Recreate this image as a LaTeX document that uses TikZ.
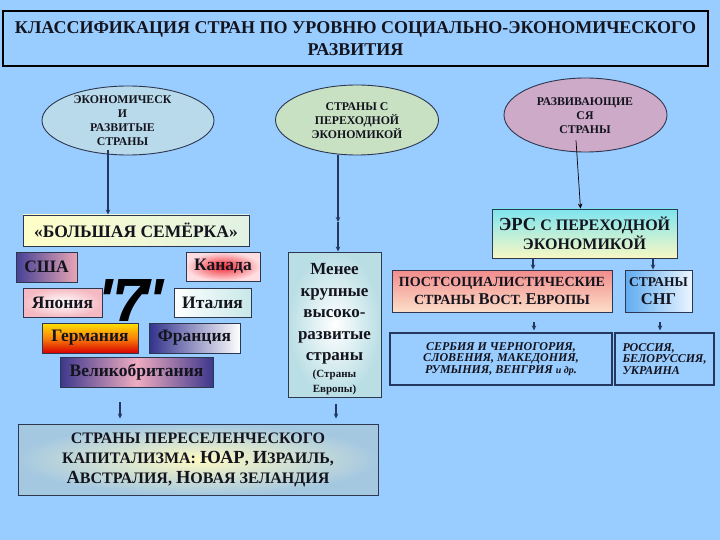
\documentclass[tikz,border=0pt]{standalone}
\usepackage{fontspec}
\setmainfont{Liberation Serif}
\newfontfamily\sevenfont{Liberation Sans}
\usetikzlibrary{shapes.geometric,arrows.meta}
\definecolor{bg}{RGB}{153,204,255}
\definecolor{bord}{RGB}{45,55,80}
\definecolor{txt}{RGB}{20,20,30}
\definecolor{arrc}{RGB}{35,55,95}
\definecolor{ellA}{RGB}{185,218,235}
\definecolor{ellB}{RGB}{200,225,195}
\definecolor{ellC}{RGB}{205,170,200}
\definecolor{creamL}{RGB}{255,255,200}
\definecolor{creamR}{RGB}{225,242,228}
\definecolor{navyg}{RGB}{70,65,150}
\definecolor{pinkg}{RGB}{232,165,180}
\definecolor{pinkm}{RGB}{240,172,192}
\definecolor{redg}{RGB}{240,40,50}
\definecolor{pinkl}{RGB}{255,222,225}
\definecolor{japo}{RGB}{245,185,195}
\definecolor{tealg}{RGB}{200,232,232}
\definecolor{yelg}{RGB}{255,225,0}
\definecolor{orag}{RGB}{250,130,10}
\definecolor{redb}{RGB}{215,0,0}
\definecolor{frn}{RGB}{50,50,140}
\definecolor{gbn}{RGB}{60,55,140}
\definecolor{menO}{RGB}{185,222,228}
\definecolor{botI}{RGB}{255,250,195}
\definecolor{botO}{RGB}{165,200,225}
\definecolor{ersT}{RGB}{125,228,240}
\definecolor{ersB}{RGB}{248,248,195}
\definecolor{postT}{RGB}{242,140,140}
\definecolor{postB}{RGB}{252,222,200}
\definecolor{sngL}{RGB}{95,172,240}
\definecolor{sngR}{RGB}{235,245,255}
\newcommand\fs[2]{\fontsize{#1}{#2}\selectfont}
\begin{document}
\begin{tikzpicture}[x=1pt,y=-1pt,
  box/.style={draw=bord, line width=0.9pt, inner sep=0pt, align=center, text=txt, font=\bfseries},
  ell/.style={ellipse, draw=bord, line width=0.9pt, inner sep=0pt},
  elltext/.style={inner sep=0pt, align=center, text=txt, font=\fs{11.8}{14}\bfseries},
  arr/.style={draw=arrc, line width=1.1pt, -{Stealth[length=5pt,width=4.5pt]}},
  cty/.style={box, font=\fs{17.5}{20}\bfseries}
]
\fill[bg] (0,0) rectangle (720,540);
\useasboundingbox (0,0) rectangle (720,540);

\node[box, draw=black, line width=2pt, fill=bg, minimum width=705, minimum height=55, font=\fs{18}{21.5}\bfseries] (title) at (355.5,38.5)
  {КЛАССИФИКАЦИЯ СТРАН ПО УРОВНЮ СОЦИАЛЬНО-ЭКОНОМИЧЕСКОГО\\РАЗВИТИЯ};

\node[ell, fill=ellA, minimum width=172, minimum height=69] (e1) at (128,120.5) {};
\node[elltext] (e1t) at (122.5,121) {ЭКОНОМИЧЕСК\\И\\РАЗВИТЫЕ\\СТРАНЫ};
\node[ell, fill=ellB, minimum width=163, minimum height=70] (e2) at (357,120) {};
\node[elltext] (e2t) at (357,120.5) {СТРАНЫ С\\ПЕРЕХОДНОЙ\\ЭКОНОМИКОЙ};
\node[ell, fill=ellC, minimum width=163, minimum height=74] (e3) at (585.5,115) {};
\node[elltext] (e3t) at (585,115.5) {РАЗВИВАЮЩИЕ\\СЯ\\СТРАНЫ};

\node[box, minimum width=226, minimum height=31, left color=creamL, right color=creamR, font=\fs{17.5}{20}\bfseries] (b7) at (136,230.5) {«БОЛЬШАЯ СЕМЁРКА»};

\node[anchor=base, inner sep=0pt, text=black, font=\sevenfont\bfseries\itshape\fs{61}{61}] (seven) at (131,321.5) {"\kern-.2em7\kern-.2em"};

\node[cty, minimum width=61, minimum height=30, left color=navyg, right color=pinkg] (usa) at (46.5,267) {США};
\node[cty, minimum width=74, minimum height=29, inner color=redg, outer color=pinkl] (can) at (223,266.5) {Канада};
\node[cty, minimum width=79, minimum height=29, inner color=white, outer color=japo] (jap) at (62.5,302.5) {Япония};
\node[cty, minimum width=77, minimum height=29, left color=white, right color=tealg] (ita) at (212.5,302.5) {Италия};
\node[cty, minimum width=96, minimum height=30, top color=yelg, bottom color=redb, middle color=orag] (ger) at (90,338) {Германия};
\node[cty, minimum width=91, minimum height=30, left color=frn, right color=white] (fra) at (194.5,338) {Франция};
\node[cty, minimum width=153, minimum height=30, left color=gbn, right color=gbn, middle color=pinkm] (gb) at (136.5,372) {Великобритания};

\node[box, minimum width=93, minimum height=145, inner color=white, outer color=menO] (menee) at (334.5,324.5) {};
\node[inner sep=0pt, align=center, text=txt, font=\fs{17}{21.5}\bfseries] (meneet) at (334.5,329.5)
  {Менее\\крупные\\высоко-\\развитые\\страны\\[-4.5pt]{\fs{11}{13}\bfseries(Страны}\\[-6.5pt]{\fs{11}{13}\bfseries Европы)}};

\node[box, minimum width=360, minimum height=71, inner color=botI, outer color=botO, font=\fs{16}{20}\bfseries] (bot) at (198,459.5)
  {СТРАНЫ ПЕРЕСЕЛЕНЧЕСКОГО\\КАПИТАЛИЗМА: {\fs{18.5}{20}ЮАР}, {\fs{18.5}{20}И}ЗРАИЛЬ,\\{\fs{18.5}{20}А}ВСТРАЛИЯ, {\fs{18.5}{20}Н}ОВАЯ ЗЕЛАНДИЯ};

\node[box, minimum width=185, minimum height=49, top color=ersT, bottom color=ersB, font=\fs{16}{19}\bfseries] (ers) at (584.5,233.5)
  {{\fs{18.5}{19}ЭРС} С ПЕРЕХОДНОЙ\\ЭКОНОМИКОЙ};
\node[box, minimum width=220, minimum height=42, top color=postT, bottom color=postB, font=\fs{14}{18}\bfseries] (post) at (502,291)
  {ПОСТСОЦИАЛИСТИЧЕСКИЕ\\СТРАНЫ {\fs{16.5}{18}В}ОСТ. {\fs{16.5}{18}Е}ВРОПЫ};
\node[box, minimum width=67, minimum height=42, left color=sngL, right color=sngR, font=\fs{13.5}{18}\bfseries] (sng) at (658.5,291)
  {СТРАНЫ\\{\fs{16.5}{18}СНГ}};
\node[box, draw=arrc, line width=1.2pt, fill=bg, minimum width=222, minimum height=52, font=\fs{12}{11.7}\bfseries\itshape] (serb) at (501,359)
  {СЕРБИЯ И ЧЕРНОГОРИЯ,\\СЛОВЕНИЯ, МАКЕДОНИЯ,\\РУМЫНИЯ, ВЕНГРИЯ {\fs{10}{11}и др}.};
\node[box, draw=arrc, line width=1.2pt, fill=bg, align=left, minimum width=99, minimum height=52, font=\fs{12}{11.7}\bfseries\itshape] (ross) at (664.5,359)
  {РОССИЯ,\\БЕЛОРУССИЯ,\\УКРАИНА};

% connectors
\draw[arr, line width=1.3pt] ([xshift=-20pt,yshift=5pt]e1.south) -- ([xshift=-20pt]e1.south |- b7.north);
\coordinate (m2) at (338,222);
\draw[arr] ([xshift=-19pt]e2.south) -- (m2);
\draw[arr] (m2) -- (m2 |- menee.north);
\draw[arr, draw=black, line width=0.7pt] ([xshift=-9.5pt,yshift=12pt]e3.south) -- ([xshift=-4pt]ers.north);
\draw[arr] ([xshift=-51.5pt]ers.south) -- ([xshift=31pt]post.north);
\draw[arr] ([xshift=68.5pt]ers.south) -- ([xshift=-5.5pt]sng.north);
\draw[arr] ([xshift=32pt,yshift=-10pt]post.south) -- ([xshift=33pt,yshift=2pt]serb.north);
\draw[arr] ([xshift=1.5pt,yshift=-10pt]sng.south) -- ([xshift=-4.5pt,yshift=2pt]ross.north);
\coordinate (c7) at (120,402);
\draw[arr] (c7) -- ([yshift=5pt]c7 |- bot.north);
\draw[arr] ([xshift=1.5pt,yshift=-7pt]menee.south) -- ([xshift=138pt,yshift=5pt]bot.north);
\end{tikzpicture}
\end{document}
